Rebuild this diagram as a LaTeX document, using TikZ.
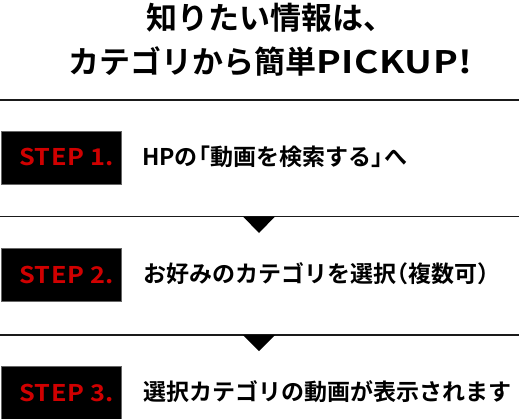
\documentclass[tikz,border=0pt]{standalone}
\usepackage{fontspec}
\setmainfont{Noto Sans CJK JP Bold}
\newfontfamily\jpb{Noto Sans CJK JP Bold}
\newfontfamily\latb[FakeStretch=1.2,LetterSpace=2]{Noto Sans CJK JP Bold}
\newfontfamily\stepf[FakeStretch=1.1,LetterSpace=2]{Noto Sans CJK JP Bold}
\definecolor{stepred}{HTML}{D00000}
\definecolor{boxedge}{HTML}{666666}
\definecolor{rule}{HTML}{1A1A1A}
\newcommand{\lbk}{\kern-.45em「}
\newcommand{\rbk}{」\kern-.45em}
\newcommand{\lpar}{\kern-.45em（}
\newcommand{\rpar}{）}
\begin{document}
\begin{tikzpicture}[x=1pt,y=-1pt,
  stepbox/.style={fill=black,draw=boxedge,line width=0.8pt,minimum width=120pt,minimum height=53pt,inner sep=0pt,
    font=\stepf\fontsize{23}{23}\selectfont,text=stepred},
  steptext/.style={anchor=west,inner sep=0pt,font=\jpb\fontsize{23}{23}\selectfont},
  titletext/.style={anchor=west,inner sep=0pt,font=\jpb\fontsize{31}{31}\selectfont},
  sep/.style={draw=rule,line width=1.6pt},
  tri/.style={fill=black}]
\useasboundingbox (0,0) rectangle (519,418);
\node[titletext] (t1) at (146,18) {知りたい情報は、};
\node[titletext] (t2) at (68,61) {カテゴリから簡単{\latb PICKUP!}};
\coordinate (l1a) at (0,100); \coordinate (l1b) at (519,100);
\draw[sep] (l1a) -- (l1b);
\node[stepbox,anchor=north west] (s1) at (1,130.5) {\hspace{10pt}STEP 1.};
\node[steptext] (x1) at (142,157) {HPの\lbk 動画を検索する\rbk へ};
\coordinate (l2a) at (0,216.5); \coordinate (l2b) at (519,216.5);
\draw[sep] (l2a) -- (l2b);
\coordinate (a1l) at (243,216.5); \coordinate (a1r) at (275,216.5); \coordinate (a1t) at (259,233);
\fill[tri] (a1l) -- (a1r) -- (a1t) -- cycle;
\node[stepbox,anchor=north west] (s2) at (1,248) {\hspace{10pt}STEP 2.};
\node[steptext] (x2) at (143,274) {お好みのカテゴリを選択\lpar 複数可\rpar};
\coordinate (l3a) at (0,335); \coordinate (l3b) at (519,335);
\draw[sep] (l3a) -- (l3b);
\coordinate (a2l) at (243,335); \coordinate (a2r) at (275,335); \coordinate (a2t) at (259,351);
\fill[tri] (a2l) -- (a2r) -- (a2t) -- cycle;
\node[stepbox,anchor=north west] (s3) at (1,366) {\hspace{10pt}STEP 3.};
\node[steptext] (x3) at (143,392) {選択カテゴリの動画が表示されます};
\end{tikzpicture}
\end{document}
